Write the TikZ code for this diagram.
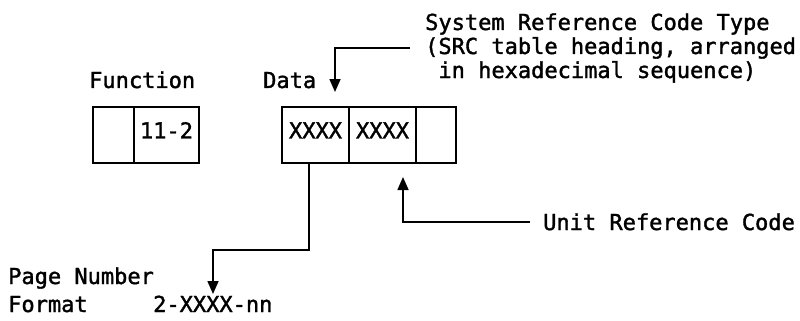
\documentclass[tikz,border=0pt]{standalone}
\usepackage{fontspec}
\setmonofont[FakeBold=1.6]{DejaVu Sans Mono}
\usetikzlibrary{arrows.meta}
\begin{document}
\begin{tikzpicture}[x=1pt,y=-1pt,
  every node/.style={font=\ttfamily\fontsize{22}{24}\selectfont},
  lbl/.style={inner sep=0pt,anchor=base west},
  cell/.style={draw,line width=1.5pt,inner sep=0pt,outer sep=0pt,minimum height=56pt,anchor=north west},
  ctext/.style={inner sep=0pt,text height=1.6ex,text depth=0pt},
  conn/.style={line width=1.6pt},
  arr/.style={conn,-{Triangle[width=11pt,length=13pt]}}]
\useasboundingbox (0,0) rectangle (800,321);
% labels
\node[lbl] (fun) at (89,88) {Function};
\node[lbl] (dat) at (263,88) {Data};
\node[lbl] (src1) at (425,30) {System Reference Code Type};
\node[lbl] (src2) at (425,54) {(SRC table heading, arranged};
\node[lbl] (src3) at (425,78) {\ in hexadecimal sequence)};
\node[lbl] (urc) at (543,230) {Unit Reference Code};
\node[lbl] (pn) at (8,284) {Page Number};
\node[lbl] (fmt) at (8,312) {Format};
\node[lbl] (fmtv) at (153,312) {2-XXXX-nn};
% function box
\node[cell,minimum width=41pt] (f1) at (93,107) {};
\node[cell,minimum width=65pt] (f2) at (134,107) {};
\node[ctext] (f2t) at (f2.center) {11-2};
% data box
\node[cell,minimum width=67pt] (d1) at (282,107) {};
\node[cell,minimum width=67pt] (d2) at (349,107) {};
\node[cell,minimum width=40pt] (d3) at (416,107) {};
\node[ctext] (d1t) at (d1.center) {XXXX};
\node[ctext] (d2t) at (d2.center) {XXXX};
% connectors
\coordinate (s0) at (410,48);
\coordinate (stip) at (335,92);
\draw[arr] (s0) -| (stip);
\coordinate (p0) at (309,163);
\coordinate (pmid) at (309,250);
\coordinate (ptip) at (213,294);
\draw[arr] (p0) -- (pmid) -| (ptip);
\coordinate (u0) at (530,222);
\coordinate (utip) at (403,177);
\draw[arr] (u0) -| (utip);
\end{tikzpicture}
\end{document}
